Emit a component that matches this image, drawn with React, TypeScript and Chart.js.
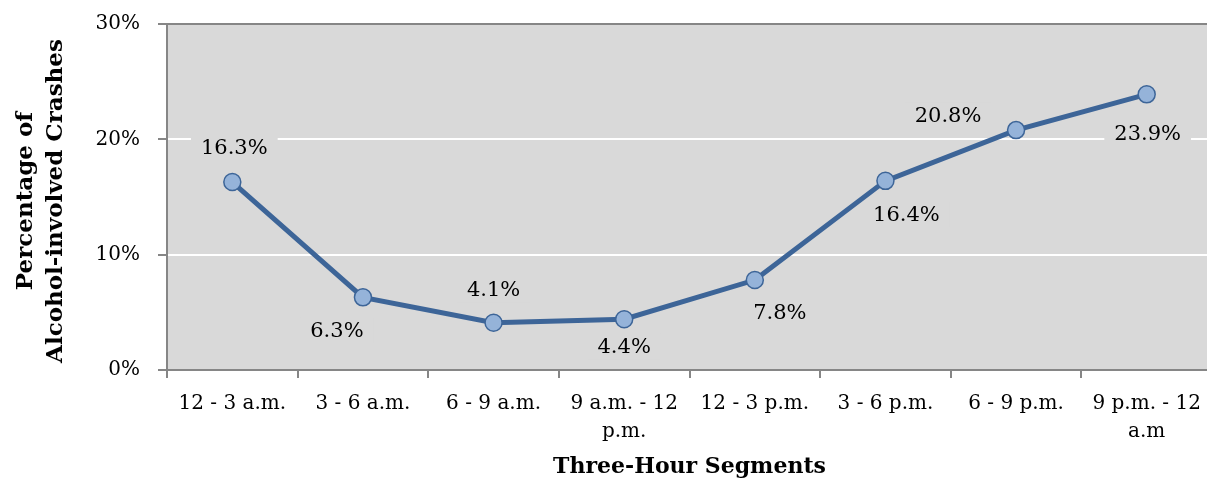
import React, { useEffect, useRef } from "react";
import { Chart, registerables } from "chart.js";
Chart.register(...registerables);

const categories: string[][] = [
  ["12 - 3 a.m."],
  ["3 - 6 a.m."],
  ["6 - 9 a.m."],
  ["9 a.m. - 12", "p.m."],
  ["12 - 3 p.m."],
  ["3 - 6 p.m."],
  ["6 - 9 p.m."],
  ["9 p.m. - 12", "a.m"],
];
const percentages = [16.3, 6.3, 4.1, 4.4, 7.8, 16.4, 20.8, 23.9];
const yMin = 0;
const yMax = 30;
const yStep = 10;
const yTitle = ["Percentage of", "Alcohol-involved Crashes"];
const xTitle = "Three-Hour Segments";

// label placement (style): offsets from the point, in px
const labelOffsets: [number, number][] = [
  [2, -34],
  [-26, 33],
  [0, -33],
  [0, 27],
  [25, 33],
  [21, 34],
  [-68, -15],
  [1, 39],
];

const SERIF = '"DejaVu Serif", serif';
const AXIS_GRAY = "#868686";
const PLOT_BG = "#d9d9d9";
const LINE_BLUE = "#3d6598";
const POINT_FILL = "#95b3d9";

const bgPlugin = {
  id: "plotBg",
  beforeDraw(chart: any) {
    const { ctx, chartArea } = chart;
    ctx.save();
    ctx.fillStyle = PLOT_BG;
    ctx.fillRect(chartArea.left, chartArea.top, chartArea.right - chartArea.left, chartArea.bottom - chartArea.top);
    ctx.restore();
  },
};

const labelPlugin = {
  id: "valueLabels",
  beforeDatasetsDraw(chart: any) {
    const { ctx } = chart;
    const meta = chart.getDatasetMeta(0);
    const data = chart.data.datasets[0].data as number[];
    ctx.save();
    ctx.font = `21px ${SERIF}`;
    ctx.textAlign = "center";
    ctx.textBaseline = "middle";
    meta.data.forEach((pt: any, i: number) => {
      const [dx, dy] = labelOffsets[i];
      const txt = data[i].toFixed(1) + "%";
      const x = pt.x + dx;
      const y = pt.y + dy;
      const w = ctx.measureText(txt).width + 20;
      ctx.fillStyle = PLOT_BG;
      ctx.fillRect(x - w / 2, y - 13, w, 26);
      ctx.fillStyle = "#000";
      ctx.fillText(txt, x, y + 1);
    });
    ctx.restore();
  },
};

const titlePlugin = {
  id: "axisTitles",
  afterDraw(chart: any) {
    const { ctx, chartArea } = chart;
    ctx.save();
    ctx.fillStyle = "#000";
    ctx.font = `bold 22px ${SERIF}`;
    ctx.textAlign = "center";
    ctx.textBaseline = "alphabetic";
    ctx.fillText(xTitle, (chartArea.left + chartArea.right) / 2, 473);
    ctx.font = `bold 23px ${SERIF}`;
    const cy = (chartArea.top + chartArea.bottom) / 2 + 4;
    yTitle.forEach((line, i) => {
      ctx.save();
      ctx.translate(32 + i * 30, cy);
      ctx.rotate(-Math.PI / 2);
      ctx.fillText(line, 0, 0);
      ctx.restore();
    });
    ctx.restore();
  },
};

export default function App() {
  const ref = useRef<HTMLCanvasElement | null>(null);
  useEffect(() => {
    if (!ref.current) return;
    const chart = new Chart(ref.current, {
      type: "line",
      data: {
        labels: categories,
        datasets: [
          {
            data: percentages,
            borderColor: LINE_BLUE,
            borderWidth: 5,
            pointRadius: 8.5,
            pointBackgroundColor: POINT_FILL,
            pointBorderColor: LINE_BLUE,
            pointBorderWidth: 1.5,
            tension: 0,
          },
        ],
      },
      options: {
        animation: false,
        responsive: false,
        maintainAspectRatio: false,
        devicePixelRatio: 1,
        layout: { padding: { top: 24, left: 0, right: 0, bottom: 0 } },
        plugins: {
          legend: { display: false },
          tooltip: { enabled: false },
        },
        scales: {
          x: {
            offset: true,
            afterFit(scale: any) {
              scale.height = 108;
              scale.paddingLeft = 0;
              scale.paddingRight = 0;
            },
            grid: {
              offset: true,
              drawOnChartArea: false,
              tickLength: 8,
              tickColor: AXIS_GRAY,
              lineWidth: 2,
            },
            border: { color: AXIS_GRAY, width: 2 },
            ticks: {
              color: "#000",
              font: { family: SERIF, size: 20, lineHeight: 1.4 },
              padding: 12,
              maxRotation: 0,
              autoSkip: false,
            },
          },
          y: {
            min: yMin,
            max: yMax,
            afterFit(scale: any) {
              scale.width = 167;
              scale.paddingTop = 0;
              scale.paddingBottom = 0;
            },
            grid: {
              color: (c: any) => (c.tick && c.tick.value === yMax ? AXIS_GRAY : "#ffffff"),
              lineWidth: 2,
              tickLength: 9,
              tickColor: AXIS_GRAY,
            },
            border: { color: AXIS_GRAY, width: 2 },
            ticks: {
              stepSize: yStep,
              color: "#000",
              font: { family: SERIF, size: 20 },
              padding: 18,
              callback: (v: any) => v + "%",
            },
          },
        },
      },
      plugins: [bgPlugin, labelPlugin, titlePlugin],
    });
    return () => chart.destroy();
  }, []);
  return (
    <div style={{ position: "fixed", left: 0, top: 0, width: 1222, height: 478, overflow: "hidden" }}>
      <canvas ref={ref} width={1222} height={478} style={{ display: "block", width: 1222, height: 478 }} />
    </div>
  );
}
